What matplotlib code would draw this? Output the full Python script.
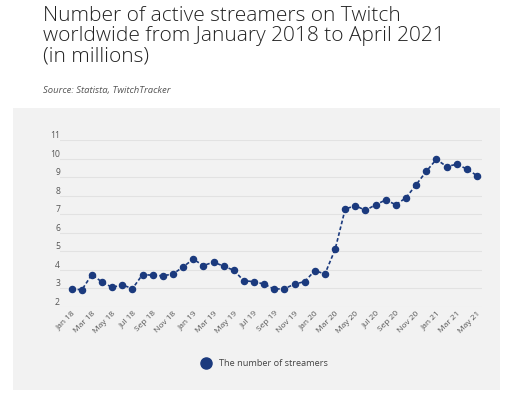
import matplotlib
matplotlib.use("Agg")
import matplotlib.pyplot as plt
from matplotlib.patches import Rectangle
from matplotlib.lines import Line2D

months = ["Jan 18","Feb 18","Mar 18","Apr 18","May 18","Jun 18","Jul 18","Aug 18","Sep 18","Oct 18","Nov 18","Dec 18",
          "Jan 19","Feb 19","Mar 19","Apr 19","May 19","Jun 19","Jul 19","Aug 19","Sep 19","Oct 19","Nov 19","Dec 19",
          "Jan 20","Feb 20","Mar 20","Apr 20","May 20","Jun 20","Jul 20","Aug 20","Sep 20","Oct 20","Nov 20","Dec 20",
          "Jan 21","Feb 21","Mar 21","Apr 21","May 21"]
streamers = [2.99, 2.92, 3.75, 3.34, 3.06, 3.19, 2.99, 3.75, 3.71, 3.68, 3.78, 4.16,
             4.58, 4.23, 4.42, 4.20, 3.98, 3.41, 3.37, 3.23, 2.96, 2.99, 3.23, 3.37,
             3.96, 3.78, 5.10, 7.28, 7.46, 7.21, 7.51, 7.77, 7.51, 7.89, 8.59, 9.31,
             9.96, 9.57, 9.69, 9.44, 9.08]
yticks = [2, 3, 4, 5, 6, 7, 8, 9, 10, 11]

W, H = 512, 397
fig = plt.figure(figsize=(W/100, H/100), dpi=100)
fig.patch.set_facecolor("white")

panel = Rectangle((13/W, 1-390/H), (500-13)/W, (390-108)/H, transform=fig.transFigure,
                  facecolor="#f2f2f2", edgecolor="none", zorder=-5)
fig.patches.append(panel)

ax = fig.add_axes([60/W, 1-307/H, (482-60)/W, (307-140)/H])
ax.set_zorder(2)
ax.set_facecolor("#f2f2f2")
for s in ax.spines.values():
    s.set_visible(False)

navy = "#1b3a7e"
x = list(range(len(months)))
ax.plot(x, streamers, color=navy, lw=1.2, dashes=(2.2, 1.4), marker="o",
        markersize=4.4, markerfacecolor=navy, markeredgecolor=navy, zorder=3)

ax.set_xlim(-1.15, 40.5)
ax.set_ylim(2, 11)
ax.set_yticks(yticks)
ax.set_yticklabels([str(v) for v in yticks], fontsize=6.2, color="#555555", va="bottom", family="Open Sans")
ax.grid(axis="y", color="#e2e2e2", lw=0.8)
ax.set_axisbelow(True)
ax.tick_params(axis="y", length=0, pad=0)
ax.tick_params(axis="x", length=0, pad=2)
ax.set_xticks(x[::2])
ax.set_xticklabels(months[::2], rotation=45, ha="right", rotation_mode="anchor",
                   fontsize=6, color="#555555", family="Open Sans")

fig.text(43/W, 1-6/H, "Number of active streamers on Twitch\nworldwide from January 2018 to April 2021\n(in millions)",
         ha="left", va="top", fontsize=15, color="#222222", family="Open Sans", fontweight="light",
         linespacing=1.02)
fig.text(43/W, 1-90/H, "Source: Statista, TwitchTracker", ha="left", va="center",
         fontsize=6.8, style="italic", color="#555555", family="Open Sans")

h = Line2D([], [], color=navy, marker="o", linestyle="none", markersize=8)
fig.legend([h], ["The number of streamers"], loc="center", bbox_to_anchor=(262/W, 1-364/H),
           frameon=False, labelcolor="#444444", handletextpad=0.4,
           prop={"family": "Open Sans", "size": 6.6})

fig.savefig("out.png", dpi=100, facecolor="white")
